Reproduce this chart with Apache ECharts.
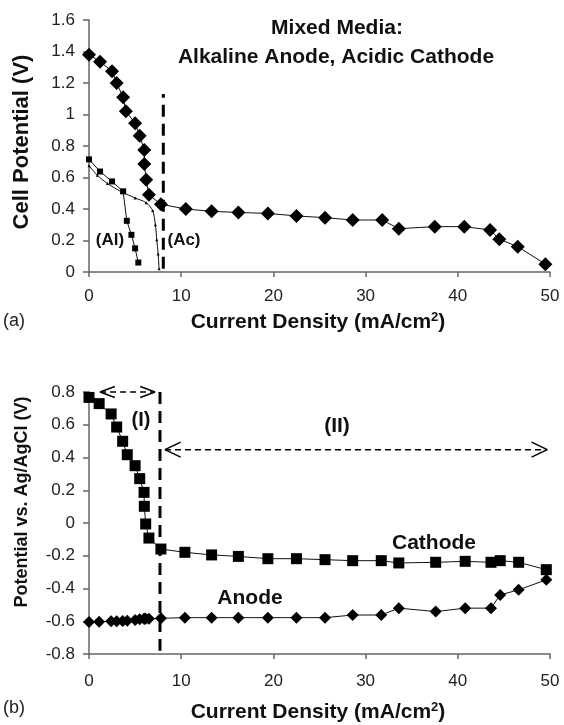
<!DOCTYPE html>
<html>
<head>
<meta charset="utf-8">
<script src="https://cdn.jsdelivr.net/npm/echarts@6/dist/echarts.min.js"></script>
<style>
html,body{margin:0;padding:0;background:#fff;}
#c{width:564px;height:725px;}
</style>
</head>
<body>
<div id="c"></div>
<script>
// ---- Panel (a): cell potential ----
const cellX = [0, 1.2, 2.5, 3.0, 3.7, 4.0, 5.0, 5.5, 6.0, 6.0, 6.2, 6.5, 7.8, 10.5, 13.3, 16.2, 19.4, 22.5, 25.6, 28.6, 31.8, 33.6, 37.5, 40.7, 43.5, 44.5, 46.5, 49.5];
const cellY = [1.38, 1.335, 1.275, 1.20, 1.11, 1.02, 0.945, 0.865, 0.775, 0.685, 0.585, 0.49, 0.43, 0.40, 0.385, 0.378, 0.372, 0.356, 0.345, 0.330, 0.330, 0.275, 0.288, 0.288, 0.267, 0.208, 0.161, 0.05];
const alX = [0, 1.2, 2.5, 3.7, 4.1, 4.6, 5.0, 5.35];
const alY = [0.715, 0.638, 0.575, 0.512, 0.325, 0.236, 0.150, 0.060];
const acX = [0, 0.9, 2.0, 3.5, 5.0, 6.2, 6.9, 7.2, 7.35, 7.5, 7.6];
const acY = [0.675, 0.615, 0.562, 0.510, 0.470, 0.440, 0.390, 0.300, 0.205, 0.115, 0.02];
const dashAX = [8.06, 8.06];
const dashAY = [0.02, 1.13];

// ---- Panel (b): electrode potentials ----
const cathX = [0, 1.1, 2.4, 3.0, 3.65, 4.15, 5.0, 5.5, 5.97, 6.0, 6.15, 6.5, 7.8, 10.4, 13.3, 16.2, 19.4, 22.5, 25.6, 28.6, 31.7, 33.6, 37.6, 40.8, 43.6, 44.6, 46.6, 49.6];
const cathY = [0.767, 0.729, 0.666, 0.586, 0.499, 0.417, 0.350, 0.271, 0.187, 0.102, -0.006, -0.092, -0.159, -0.179, -0.195, -0.204, -0.218, -0.218, -0.224, -0.230, -0.230, -0.244, -0.240, -0.234, -0.240, -0.230, -0.240, -0.285];
const anodeX = [0, 1.1, 2.4, 3.0, 3.65, 4.15, 5.0, 5.5, 5.97, 6.0, 6.15, 6.5, 7.8, 10.4, 13.3, 16.2, 19.4, 22.5, 25.6, 28.6, 31.7, 33.6, 37.6, 40.8, 43.6, 44.6, 46.6, 49.6];
const anodeY = [-0.605, -0.603, -0.600, -0.600, -0.598, -0.597, -0.592, -0.588, -0.585, -0.585, -0.585, -0.585, -0.582, -0.578, -0.578, -0.578, -0.578, -0.578, -0.578, -0.562, -0.562, -0.520, -0.541, -0.520, -0.520, -0.439, -0.408, -0.347];
const dashBX = [7.7, 7.7];
const dashBY = [0.8, -0.78];
const arrowIX = [1.2, 7.16];
const arrowIY = [0.8, 0.8];
const arrowIIX = [8.24, 49.7];
const arrowIIY = [0.448, 0.448];

// axis tick labels (ranges)
const xTicks = [0, 10, 20, 30, 40, 50];
const yTicksA = [0, 0.2, 0.4, 0.6, 0.8, 1, 1.2, 1.4, 1.6];
const yTicksB = [-0.8, -0.6, -0.4, -0.2, 0, 0.2, 0.4, 0.6, 0.8];

const zip = (xs, ys) => xs.map((x, i) => [x, ys[i]]);

function arrowHead(tipX, tipY, dir, dx, dy) {
  const bx = tipX - dir * dx;
  return [[bx, tipY + dy], [tipX, tipY], [bx, tipY - dy]];
}

const FONT = '"Liberation Sans", Arial, sans-serif';
const axisColor = '#666';
const labelColor = '#222';

function xAxisCfg(gi, margin) {
  return {
    type: 'value', gridIndex: gi, min: xTicks[0], max: xTicks[xTicks.length - 1], interval: 10,
    axisLine: { onZero: false, lineStyle: { color: axisColor, width: 1.5 } },
    axisTick: { show: true, length: 5, lineStyle: { color: axisColor, width: 1.5 } },
    axisLabel: { color: labelColor, fontFamily: FONT, fontSize: 17, margin: margin },
    splitLine: { show: false }
  };
}
function yAxisCfg(gi, ticks) {
  return {
    type: 'value', gridIndex: gi, min: ticks[0], max: ticks[ticks.length - 1], interval: 0.2,
    axisLine: { show: true, onZero: false, lineStyle: { color: axisColor, width: 1.5 } },
    axisTick: { show: true, length: 6, lineStyle: { color: axisColor, width: 1.5 } },
    axisLabel: { color: labelColor, fontFamily: FONT, fontSize: 17, margin: 14,
      formatter: v => String(Math.round(v * 10) / 10) },
    splitLine: { show: false }
  };
}

const lineStyleThin = { color: '#111', width: 1 };

const option = {
  animation: false,
  backgroundColor: '#fff',
  grid: [
    { left: 89, top: 20, width: 461, height: 252 },
    { left: 89, top: 392, width: 461, height: 262 }
  ],
  xAxis: [xAxisCfg(0, 16), xAxisCfg(1, 19)],
  yAxis: [yAxisCfg(0, yTicksA), yAxisCfg(1, yTicksB)],
  series: [
    { type: 'line', xAxisIndex: 0, yAxisIndex: 0, data: zip(cellX, cellY), symbol: 'diamond', symbolSize: 14,
      itemStyle: { color: '#000' }, lineStyle: lineStyleThin, z: 5 },
    { type: 'line', xAxisIndex: 0, yAxisIndex: 0, data: zip(alX, alY), symbol: 'rect', symbolSize: 6,
      itemStyle: { color: '#000' }, lineStyle: lineStyleThin, z: 4 },
    { type: 'line', xAxisIndex: 0, yAxisIndex: 0, data: zip(acX, acY), symbol: 'triangle', symbolSize: 3,
      itemStyle: { color: '#000' }, lineStyle: lineStyleThin, smooth: 0.3, z: 4 },
    { type: 'line', xAxisIndex: 0, yAxisIndex: 0, data: zip(dashAX, dashAY), symbol: 'none',
      lineStyle: { color: '#000', width: 3, type: [12, 7] }, z: 3 },

    { type: 'line', xAxisIndex: 1, yAxisIndex: 1, data: zip(cathX, cathY), symbol: 'rect', symbolSize: 11,
      itemStyle: { color: '#000' }, lineStyle: lineStyleThin, z: 5 },
    { type: 'line', xAxisIndex: 1, yAxisIndex: 1, data: zip(anodeX, anodeY), symbol: 'diamond', symbolSize: 12,
      itemStyle: { color: '#000' }, lineStyle: lineStyleThin, z: 5 },
    { type: 'line', xAxisIndex: 1, yAxisIndex: 1, data: zip(dashBX, dashBY), symbol: 'none',
      lineStyle: { color: '#000', width: 3, type: [12, 7] }, z: 3 },
    { type: 'line', xAxisIndex: 1, yAxisIndex: 1, data: zip(arrowIX, arrowIY), symbol: 'none', clip: false,
      lineStyle: { color: '#000', width: 1.5, type: [6, 4] }, z: 3 },
    { type: 'line', xAxisIndex: 1, yAxisIndex: 1, data: arrowHead(arrowIX[0], arrowIY[0], -1, 1.6, 0.034), symbol: 'none', clip: false,
      lineStyle: { color: '#000', width: 1.5 }, z: 3 },
    { type: 'line', xAxisIndex: 1, yAxisIndex: 1, data: arrowHead(arrowIX[1], arrowIY[1], 1, 1.6, 0.034), symbol: 'none', clip: false,
      lineStyle: { color: '#000', width: 1.5 }, z: 3 },
    { type: 'line', xAxisIndex: 1, yAxisIndex: 1, data: zip(arrowIIX, arrowIIY), symbol: 'none', clip: false,
      lineStyle: { color: '#000', width: 1.5, type: [6, 4] }, z: 3 },
    { type: 'line', xAxisIndex: 1, yAxisIndex: 1, data: arrowHead(arrowIIX[0], arrowIIY[0], -1, 1.7, 0.046), symbol: 'none', clip: false,
      lineStyle: { color: '#000', width: 1.5 }, z: 3 },
    { type: 'line', xAxisIndex: 1, yAxisIndex: 1, data: arrowHead(arrowIIX[1], arrowIIY[1], 1, 1.7, 0.046), symbol: 'none', clip: false,
      lineStyle: { color: '#000', width: 1.5 }, z: 3 }
  ],
  graphic: []
};

function txt(x, y, text, opts) {
  return Object.assign({ type: 'text', x: x, y: y, z: 10,
    style: Object.assign({ text: text, fill: '#111', font: 'bold 16px ' + FONT, align: 'center', verticalAlign: 'middle' }, opts || {}) });
}
const xTitleRich = { sup: { fontSize: 13, fontWeight: 'bold', fontFamily: FONT, fill: '#111', verticalAlign: 'top', padding: [0, 0, 10, 0] } };
option.graphic = [
  txt(337, 28, 'Mixed Media:', { font: 'bold 21px ' + FONT }),
  txt(336, 57, 'Alkaline Anode, Acidic Cathode', { font: 'bold 21px ' + FONT }),
  { type: 'text', x: 22, y: 142, rotation: Math.PI / 2, z: 10,
    style: { text: 'Cell Potential (V)', fill: '#111', font: 'bold 22px ' + FONT, align: 'center', verticalAlign: 'middle' } },
  { type: 'text', x: 22, y: 502, rotation: Math.PI / 2, z: 10,
    style: { text: 'Potential vs. Ag/AgCl (V)', fill: '#111', font: 'bold 18px ' + FONT, align: 'center', verticalAlign: 'middle' } },
  { type: 'text', x: 318, y: 322, z: 10,
    style: { text: 'Current Density (mA/cm{sup|2})', rich: xTitleRich, fill: '#111', font: 'bold 21px ' + FONT, align: 'center', verticalAlign: 'middle' } },
  { type: 'text', x: 318, y: 712, z: 10,
    style: { text: 'Current Density (mA/cm{sup|2})', rich: xTitleRich, fill: '#111', font: 'bold 21px ' + FONT, align: 'center', verticalAlign: 'middle' } },
  txt(14, 321, '(a)', { font: '18px ' + FONT, fill: '#222' }),
  txt(14, 708, '(b)', { font: '18px ' + FONT, fill: '#222' }),
  txt(110, 240, '(Al)', { font: 'bold 17px ' + FONT }),
  txt(184, 240, '(Ac)', { font: 'bold 17px ' + FONT }),
  txt(141, 420, '(I)', { font: 'bold 20px ' + FONT }),
  txt(337, 426, '(II)', { font: 'bold 21px ' + FONT }),
  txt(434, 543, 'Cathode', { font: 'bold 21px ' + FONT }),
  txt(250, 598, 'Anode', { font: 'bold 21px ' + FONT })
];

const chart = echarts.init(document.getElementById('c'), null, { renderer: 'canvas' });
chart.setOption(option);
</script>
</body>
</html>
